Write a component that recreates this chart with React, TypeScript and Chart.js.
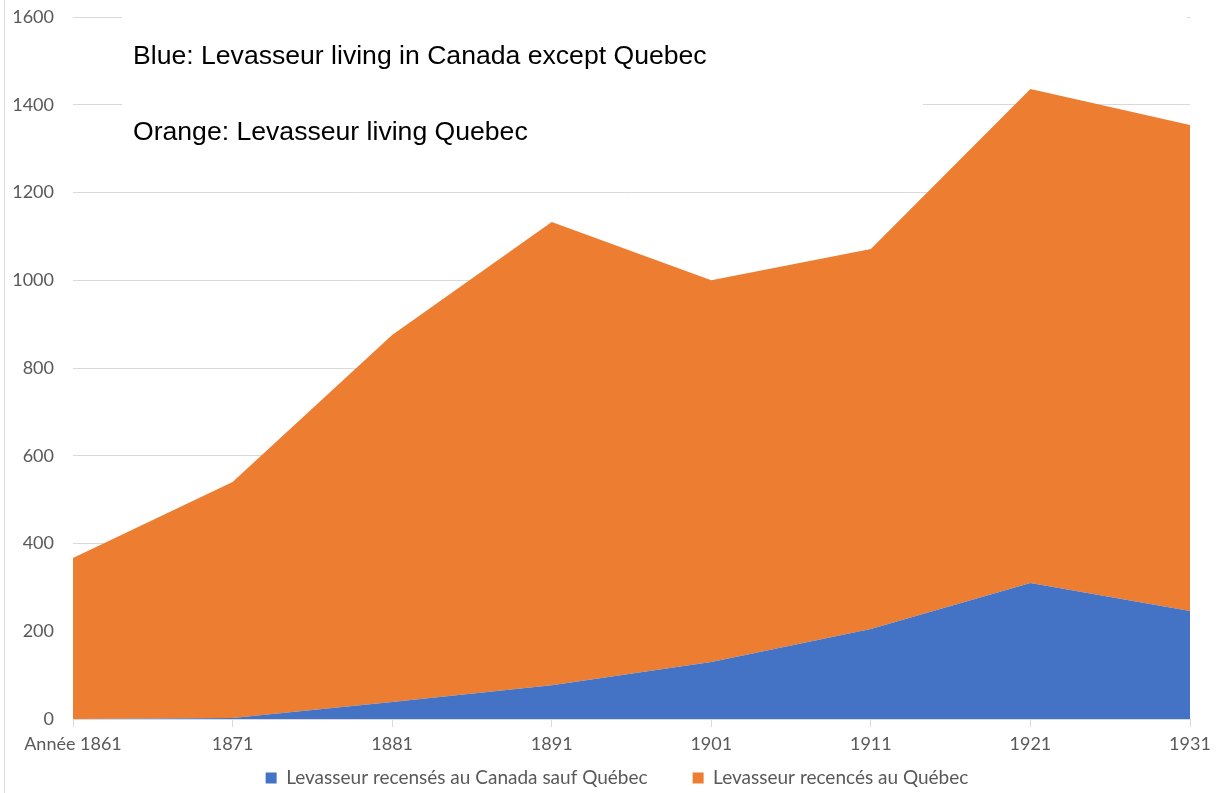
import React, { useEffect, useRef } from "react";
import { Chart, registerables } from "chart.js";

Chart.register(...registerables);

const categories = ["Année 1861", "1871", "1881", "1891", "1901", "1911", "1921", "1931"];
const outsideQuebec = [0, 2, 39, 77, 130, 205, 310, 246];
const inQuebec = [367, 538, 836, 1056, 870, 866, 1126, 1108];
const seriesLabels = ["Levasseur recensés au Canada sauf Québec", "Levasseur recencés au Québec"];
const seriesColors = ["#4472C4", "#ED7D31"];
const noteLines = ["Blue: Levasseur living in Canada except Quebec", "Orange: Levasseur living Quebec"];
const yMax = 1600;
const yStep = 200;

const LEGEND_PAD = 45;
const LEGEND_H = 30;
const LEGEND_FONT = 19;

const decorPlugin = {
  id: "decor",
  afterLayout(chart: any) {
    const lg = chart.legend;
    if (lg) {
      const top = 780 - LEGEND_PAD - (LEGEND_FONT * 1.2) / 2;
      lg.top = top;
      lg.bottom = chart.height;
      lg.height = chart.height - top;
      lg.left = 22;
      lg.right = 1212;
      lg.width = 1190;
    }
  },
  beforeDraw(chart: any) {
    const ctx = chart.ctx;
    ctx.save();
    ctx.fillStyle = "#ffffff";
    ctx.fillRect(0, 0, chart.width, chart.height);
    ctx.strokeStyle = "#d9d9d9";
    ctx.lineWidth = 1;
    ctx.beginPath();
    ctx.moveTo(4.5, 0);
    ctx.lineTo(4.5, chart.height);
    ctx.stroke();
    ctx.restore();
  },
  beforeDatasetsDraw(chart: any) {
    const ctx = chart.ctx;
    ctx.save();
    ctx.fillStyle = "#ffffff";
    ctx.fillRect(122, 0, 1065, 28);
    ctx.fillRect(122, 34, 801, 122);
    ctx.restore();
  },
  afterDraw(chart: any) {
    const ctx = chart.ctx;
    ctx.save();
    ctx.fillStyle = "#000000";
    ctx.font = "26.6px 'Liberation Sans', Arial, sans-serif";
    ctx.textAlign = "left";
    ctx.textBaseline = "alphabetic";
    ctx.fillText(noteLines[0], 133, 64);
    ctx.fillText(noteLines[1], 133, 140);
    ctx.restore();
  },
};

export default function App() {
  const canvasRef = useRef<HTMLCanvasElement | null>(null);

  useEffect(() => {
    if (!canvasRef.current) return;
    const tickFont = { family: "Lato, 'Open Sans', sans-serif", size: 18 };
    const legendFont = { family: "Lato, 'Open Sans', sans-serif", size: LEGEND_FONT };
    const chart = new Chart(canvasRef.current, {
      type: "line",
      data: {
        labels: categories,
        datasets: [
          {
            label: seriesLabels[0],
            data: outsideQuebec,
            backgroundColor: seriesColors[0],
            borderColor: seriesColors[0],
            borderWidth: 0,
            pointRadius: 0,
            fill: "origin",
            tension: 0,
          },
          {
            label: seriesLabels[1],
            data: inQuebec,
            backgroundColor: seriesColors[1],
            borderColor: seriesColors[1],
            borderWidth: 0,
            pointRadius: 0,
            fill: "-1",
            tension: 0,
          },
        ],
      },
      options: {
        animation: false,
        responsive: false,
        layout: { padding: { top: 17, right: 35, left: 0, bottom: 0 } },
        plugins: {
          tooltip: { enabled: false },
          title: { display: false },
          legend: {
            display: true,
            position: "bottom",
            maxHeight: LEGEND_H,
            labels: {
              boxWidth: 11,
              boxHeight: 11,
              padding: LEGEND_PAD,
              color: "#595959",
              font: legendFont,
            },
          },
        },
        scales: {
          x: {
            offset: false,
            grid: {
              display: true,
              drawOnChartArea: false,
              drawTicks: true,
              tickLength: 8,
              color: "#d9d9d9",
            },
            border: { display: true, color: "#d9d9d9" },
            ticks: {
              color: "#595959",
              font: tickFont,
              padding: 6,
              maxRotation: 0,
              autoSkip: false,
            },
            afterFit: (scale: any) => {
              scale.height = 793 - LEGEND_H - 719;
              scale.paddingLeft = 0;
              scale.paddingRight = 0;
            },
          },
          y: {
            stacked: true,
            min: 0,
            max: yMax,
            grid: { color: "#d9d9d9", drawTicks: false },
            border: { display: false },
            ticks: {
              stepSize: yStep,
              color: "#595959",
              font: tickFont,
              padding: 19,
              callback: (v: any) => String(v),
            },
            afterFit: (scale: any) => {
              scale.width = 73;
              scale.paddingTop = 0;
              scale.paddingBottom = 0;
            },
          },
        },
      },
      plugins: [decorPlugin],
    });
    return () => chart.destroy();
  }, []);

  return (
    <div style={{ position: "absolute", left: 0, top: 0, width: 1225, height: 793 }}>
      <canvas ref={canvasRef} width={1225} height={793} style={{ display: "block" }} />
    </div>
  );
}
